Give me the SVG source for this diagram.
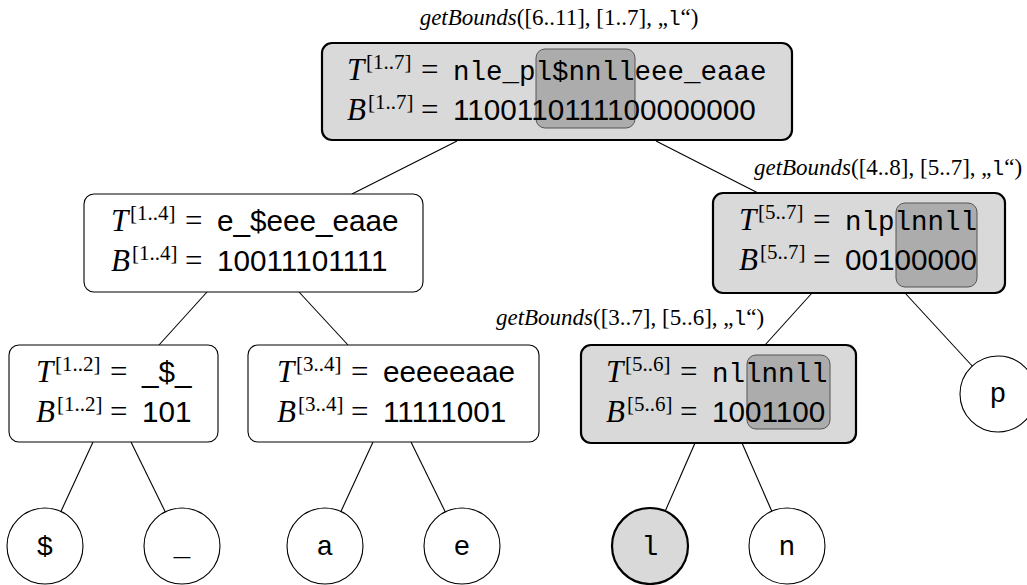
<svg xmlns="http://www.w3.org/2000/svg" width="1027" height="585" viewBox="0 0 1027 585">
  <style>
    .box{fill:#ffffff;stroke:#000000;stroke-width:1.1}
    .sel{fill:#d9d9d9;stroke:#000000;stroke-width:2.2}
    .hl{fill:#acacac;stroke:#555555;stroke-width:1}
    .edge{stroke:#000000;stroke-width:1.1;fill:none}
    .m{font-family:"Liberation Serif",serif;font-size:31px;fill:#000}
    .mi{font-style:italic}
    .sup{font-family:"Liberation Serif",serif;font-size:21px;fill:#000}
    .tt{font-family:"Liberation Mono",monospace;font-size:27.5px;fill:#000}
    .sf{font-family:"Liberation Sans",sans-serif;font-size:29.7px;fill:#000}
    .leaf{font-family:"Liberation Mono",monospace;font-size:28px;text-anchor:middle;fill:#000}
    .lbl{font-family:"Liberation Serif",serif;font-size:23px;text-anchor:middle;fill:#000}
    .lbl .ttl{font-family:"Liberation Mono",monospace;font-size:21px}
  </style>

  <!-- connectors -->
  <g id="edges" class="edge">
    <line x1="457" y1="141" x2="352" y2="194"/>
    <line x1="656" y1="141" x2="758" y2="193"/>
    <line x1="207" y1="292" x2="159" y2="345"/>
    <line x1="299" y1="292" x2="348" y2="345"/>
    <line x1="93" y1="442" x2="45" y2="546"/>
    <line x1="131" y1="442" x2="182" y2="546"/>
    <line x1="373" y1="442" x2="325" y2="546"/>
    <line x1="411" y1="442" x2="462" y2="546"/>
    <line x1="812" y1="293" x2="765" y2="345"/>
    <line x1="905" y1="293" x2="998" y2="394"/>
    <line x1="695" y1="443" x2="650" y2="546"/>
    <line x1="742" y1="443" x2="787" y2="546"/>
  </g>

  <!-- query annotations -->
  <g id="labels">
    <text class="lbl" x="559" y="25"><tspan font-style="italic">getBounds</tspan>([6..11], [1..7], „<tspan class="ttl">l</tspan>“)</text>
    <text class="lbl" x="888" y="175"><tspan font-style="italic">getBounds</tspan>([4..8], [5..7], „<tspan class="ttl">l</tspan>“)</text>
    <text class="lbl" x="630" y="325"><tspan font-style="italic">getBounds</tspan>([3..7], [5..6], „<tspan class="ttl">l</tspan>“)</text>
  </g>

  <!-- root: [1..7] -->
  <g id="n17">
    <rect class="sel" x="322" y="43" width="470" height="97" rx="10"/>
    <rect class="hl" x="536" y="49" width="99" height="79" rx="9"/>
    <text class="m mi" x="347" y="80">T</text><text class="sup" x="366" y="69">[1..7]</text><text class="m" x="421" y="80">=</text>
    <text class="tt" x="453" y="80">nle_pl$nnlleee_eaae</text>
    <text class="m mi" x="347" y="120">B</text><text class="sup" x="368" y="109">[1..7]</text><text class="m" x="421" y="120">=</text>
    <text class="sf" x="453" y="120">1100110111100000000</text>
  </g>

  <!-- [1..4] -->
  <g id="n14">
    <rect class="box" x="84" y="194" width="339" height="98" rx="10"/>
    <text class="m mi" x="111" y="231">T</text><text class="sup" x="130" y="220">[1..4]</text><text class="m" x="185" y="231">=</text>
    <text class="sf" x="217" y="231">e_$eee_eaae</text>
    <text class="m mi" x="111" y="271">B</text><text class="sup" x="132" y="260">[1..4]</text><text class="m" x="185" y="271">=</text>
    <text class="sf" x="217" y="271">10011101111</text>
  </g>

  <!-- [1..2] -->
  <g id="n12">
    <rect class="box" x="9" y="345" width="209" height="97" rx="10"/>
    <text class="m mi" x="36" y="382">T</text><text class="sup" x="55" y="371">[1..2]</text><text class="m" x="110" y="382">=</text>
    <text class="sf" x="142" y="382">_$_</text>
    <text class="m mi" x="36" y="422">B</text><text class="sup" x="57" y="411">[1..2]</text><text class="m" x="110" y="422">=</text>
    <text class="sf" x="142" y="422">101</text>
  </g>

  <!-- [3..4] -->
  <g id="n34">
    <rect class="box" x="248" y="345" width="291" height="97" rx="10"/>
    <text class="m mi" x="277" y="382">T</text><text class="sup" x="296" y="371">[3..4]</text><text class="m" x="351" y="382">=</text>
    <text class="sf" x="383" y="382">eeeeeaae</text>
    <text class="m mi" x="277" y="422">B</text><text class="sup" x="298" y="411">[3..4]</text><text class="m" x="351" y="422">=</text>
    <text class="sf" x="383" y="422">11111001</text>
  </g>

  <!-- [5..7] -->
  <g id="n57">
    <rect class="sel" x="713" y="193" width="292" height="100" rx="10"/>
    <rect class="hl" x="896" y="203" width="81" height="84" rx="9"/>
    <text class="m mi" x="739" y="230">T</text><text class="sup" x="758" y="219">[5..7]</text><text class="m" x="813" y="230">=</text>
    <text class="tt" x="845" y="230">nlplnnll</text>
    <text class="m mi" x="739" y="270">B</text><text class="sup" x="760" y="259">[5..7]</text><text class="m" x="813" y="270">=</text>
    <text class="sf" x="845" y="270">00100000</text>
  </g>

  <!-- [5..6] -->
  <g id="n56">
    <rect class="sel" x="581" y="345" width="275" height="98" rx="10"/>
    <rect class="hl" x="747" y="355" width="83" height="74" rx="9"/>
    <text class="m mi" x="606" y="382">T</text><text class="sup" x="625" y="371">[5..6]</text><text class="m" x="680" y="382">=</text>
    <text class="tt" x="712" y="382">nllnnll</text>
    <text class="m mi" x="606" y="422">B</text><text class="sup" x="627" y="411">[5..6]</text><text class="m" x="680" y="422">=</text>
    <text class="sf" x="712" y="422">1001100</text>
  </g>

  <!-- leaves -->
  <g id="leaf-dollar"><circle class="box" cx="45" cy="546" r="38"/><text class="leaf" x="45" y="555">$</text></g>
  <g id="leaf-underscore"><circle class="box" cx="182" cy="546" r="38"/><text class="leaf" x="182" y="555">_</text></g>
  <g id="leaf-a"><circle class="box" cx="325" cy="546" r="38"/><text class="leaf" x="325" y="555">a</text></g>
  <g id="leaf-e"><circle class="box" cx="462" cy="546" r="38"/><text class="leaf" x="462" y="555">e</text></g>
  <g id="leaf-l"><circle class="sel" cx="650" cy="546" r="38"/><text class="leaf" x="650" y="555">l</text></g>
  <g id="leaf-n"><circle class="box" cx="787" cy="546" r="38"/><text class="leaf" x="787" y="555">n</text></g>
  <g id="leaf-p"><circle class="box" cx="998" cy="394" r="38"/><text class="leaf" x="998" y="402">p</text></g>
</svg>
